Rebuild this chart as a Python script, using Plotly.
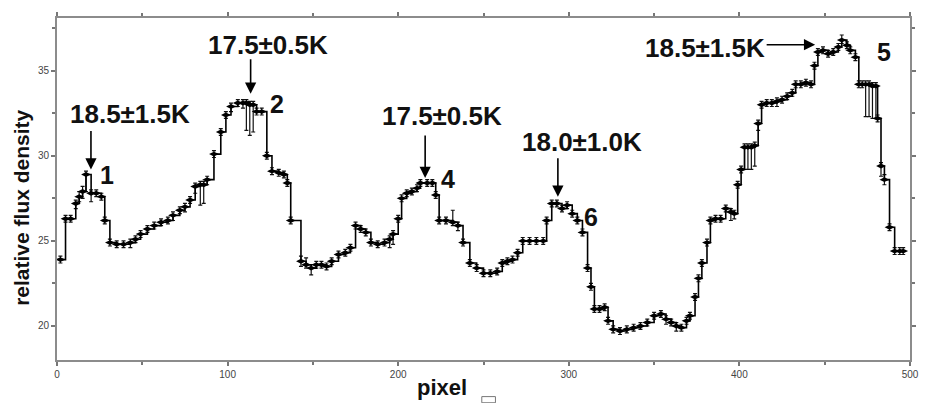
import plotly.graph_objects as go

# Flux profile along the scan (step profile with error bars)
pixel = [
    2, 5, 8, 11, 13, 15, 17, 20, 23, 26,
    28, 31, 35, 39, 43, 46, 49, 53, 57, 61,
    65, 68, 72, 75, 78, 81, 84, 86, 88, 92,
    96, 99, 102, 106, 109, 111, 113, 115, 117, 120,
    123, 126, 130, 133, 135, 137, 143, 146, 149, 152,
    155, 158, 161, 165, 169, 172, 175, 178, 181, 184,
    188, 192, 195, 197, 200, 202, 205, 208, 211, 213,
    217, 220, 222, 224, 228, 232, 235, 238, 242, 246,
    250, 254, 258, 261, 264, 267, 270, 273, 277, 281,
    285, 287, 290, 293, 296, 299, 302, 305, 308, 311,
    313, 315, 318, 321, 323, 326, 330, 334, 338, 342,
    346, 350, 354, 357, 360, 363, 366, 369, 371, 374,
    376, 378, 381, 383, 386, 389, 392, 395, 397, 399,
    401, 403, 405, 407, 409, 411, 413, 416, 419, 422,
    425, 428, 431, 433, 436, 439, 442, 444, 446, 449,
    452, 455, 458, 460, 463, 465, 468, 470, 472, 474,
    476, 478, 480, 481, 483, 485, 488, 491, 494, 496,
]
flux = [
    23.9, 26.3, 26.3, 27.2, 27.6, 27.9, 28.9, 27.8, 27.8, 27.6,
    26.2, 24.9, 24.8, 24.8, 24.9, 25.1, 25.4, 25.7, 25.9, 26.1,
    26.2, 26.5, 26.8, 27.0, 27.4, 28.2, 28.3, 28.3, 28.6, 30.1,
    31.4, 32.4, 32.9, 33.1, 33.1, 33.1, 33.0, 33.0, 32.6, 32.6,
    30.0, 29.1, 29.0, 28.9, 28.4, 26.2, 23.8, 23.6, 23.4, 23.6,
    23.6, 23.5, 23.8, 24.2, 24.3, 24.6, 25.9, 25.7, 25.5, 24.9,
    24.8, 24.9, 25.1, 25.4, 26.3, 27.5, 27.8, 27.9, 28.1, 28.4,
    28.4, 28.4, 27.7, 26.2, 26.2, 26.1, 25.9, 24.9, 23.7, 23.4,
    23.1, 23.1, 23.2, 23.7, 23.8, 23.9, 24.3, 25.0, 25.0, 25.0,
    25.0, 26.2, 27.2, 27.2, 26.9, 27.1, 26.6, 26.2, 25.5, 23.4,
    22.3, 21.0, 21.0, 21.1, 20.3, 19.8, 19.7, 19.8, 19.9, 20.0,
    20.2, 20.6, 20.7, 20.4, 20.2, 20.0, 19.9, 20.3, 20.6, 21.7,
    22.8, 23.7, 24.9, 26.2, 26.3, 26.3, 26.9, 26.7, 26.6, 28.3,
    29.2, 30.5, 30.5, 30.5, 30.6, 31.9, 33.0, 33.1, 33.1, 33.2,
    33.3, 33.5, 33.7, 34.2, 34.2, 34.3, 34.2, 35.3, 36.1, 36.2,
    36.0, 36.1, 36.4, 36.8, 36.5, 36.2, 35.8, 34.2, 34.2, 34.2,
    34.2, 34.1, 34.1, 32.2, 29.4, 28.6, 25.8, 24.4, 24.4, 24.4,
]
err_low = [
    0.2, 0.2, 0.2, 0.3, 0.3, 0.4, 1.0, 0.5, 0.2, 0.2,
    0.2, 0.2, 0.2, 0.2, 0.3, 0.2, 0.2, 0.2, 0.2, 0.2,
    0.2, 0.3, 0.2, 0.3, 0.2, 0.4, 1.2, 1.1, 0.3, 0.2,
    0.2, 0.2, 0.3, 0.2, 0.3, 1.6, 1.8, 1.6, 0.2, 0.2,
    0.2, 0.2, 0.2, 0.2, 0.2, 0.2, 0.3, 0.2, 0.4, 0.2,
    0.2, 0.2, 0.2, 0.2, 0.2, 0.2, 0.2, 0.2, 0.2, 0.2,
    0.2, 0.2, 0.5, 0.6, 0.2, 0.2, 0.2, 0.2, 0.2, 0.2,
    0.2, 0.2, 0.2, 0.2, 0.2, 0.2, 0.3, 0.2, 0.2, 0.2,
    0.2, 0.2, 0.2, 0.2, 0.2, 0.2, 0.2, 0.2, 0.2, 0.2,
    0.2, 0.2, 0.2, 0.2, 0.2, 0.2, 0.2, 0.2, 0.2, 0.2,
    0.2, 0.2, 0.2, 0.2, 0.2, 0.2, 0.2, 0.2, 0.2, 0.2,
    0.2, 0.2, 0.2, 0.3, 0.2, 0.3, 0.2, 0.2, 0.2, 0.2,
    0.2, 0.2, 0.2, 0.2, 0.2, 0.2, 0.2, 0.5, 0.3, 0.2,
    0.2, 1.3, 1.3, 1.3, 1.2, 0.4, 0.2, 0.2, 0.2, 0.3,
    0.2, 0.2, 0.2, 0.2, 0.2, 0.2, 0.2, 0.2, 0.2, 0.2,
    0.2, 0.2, 0.2, 0.2, 0.2, 0.2, 0.2, 0.2, 0.2, 1.9,
    1.9, 1.9, 1.9, 0.2, 0.6, 0.3, 0.2, 0.2, 0.2, 0.2,
]
err_high = [
    0.2, 0.2, 0.2, 0.2, 0.3, 0.3, 0.2, 0.2, 0.2, 0.2,
    0.2, 0.2, 0.2, 0.2, 0.2, 0.2, 0.2, 0.2, 0.2, 0.2,
    0.2, 0.2, 0.2, 0.2, 0.2, 0.2, 0.2, 0.2, 0.2, 0.2,
    0.2, 0.2, 0.2, 0.2, 0.2, 0.2, 0.2, 0.2, 0.2, 0.2,
    0.2, 0.2, 0.2, 0.2, 0.2, 0.2, 0.3, 0.4, 0.2, 0.2,
    0.2, 0.2, 0.2, 0.2, 0.2, 0.2, 0.2, 0.2, 0.2, 0.2,
    0.2, 0.2, 0.2, 0.2, 0.2, 0.2, 0.2, 0.2, 0.2, 0.2,
    0.2, 0.2, 0.2, 0.2, 0.2, 0.7, 0.2, 0.2, 0.2, 0.2,
    0.2, 0.2, 0.2, 0.2, 0.2, 0.2, 0.2, 0.2, 0.2, 0.2,
    0.2, 0.2, 0.2, 0.2, 0.2, 0.2, 0.2, 0.2, 0.2, 0.2,
    0.2, 0.2, 0.2, 0.2, 0.2, 0.2, 0.2, 0.2, 0.2, 0.2,
    0.2, 0.2, 0.2, 0.2, 0.2, 0.2, 0.2, 0.2, 0.2, 0.2,
    0.2, 0.2, 0.2, 0.2, 0.2, 0.2, 0.2, 0.2, 0.2, 0.2,
    0.2, 0.2, 0.2, 0.2, 0.2, 0.2, 0.2, 0.2, 0.2, 0.2,
    0.2, 0.2, 0.2, 0.2, 0.2, 0.2, 0.2, 0.2, 0.2, 0.2,
    0.2, 0.2, 0.2, 0.3, 0.2, 0.2, 0.2, 0.2, 0.2, 0.2,
    0.2, 0.2, 0.2, 0.2, 0.2, 0.3, 0.2, 0.2, 0.2, 0.2,
]

# Peak identifiers and their dust temperatures
peak_ids = ["1", "2", "4", "6", "5"]
peak_temps = ["18.5±1.5K", "17.5±0.5K", "17.5±0.5K", "18.0±1.0K", "18.5±1.5K"]

x_ticks = [0, 100, 200, 300, 400, 500]
y_ticks = [20, 25, 30, 35]

fig = go.Figure()
fig.add_trace(go.Scatter(
    x=pixel, y=flux, mode="lines+markers",
    line=dict(color="black", width=1.6, shape="hv"),
    marker=dict(symbol="diamond-wide", size=7, color="black"),
    error_y=dict(type="data", symmetric=False, array=err_high, arrayminus=err_low,
                 color="#111111", thickness=1.2, width=2),
    showlegend=False,
))

# Arrows: tip position (data units) and tail offset (pixels)
arrows = [
    dict(x=19.9, y=29.2, ax=0, ay=-40),
    dict(x=113.5, y=33.65, ax=0, ay=-36),
    dict(x=215.8, y=28.7, ax=0, ay=-44),
    dict(x=293.6, y=27.6, ax=0, ay=-40),
    dict(x=444.4, y=36.53, ax=-50, ay=0),
]
for a in arrows:
    fig.add_annotation(x=a["x"], y=a["y"], ax=a["ax"], ay=a["ay"], text="",
                       showarrow=True, arrowhead=2, arrowsize=1.4, arrowwidth=1.6,
                       arrowcolor="black", xref="x", yref="y")

temp_pos = [(42.7, 32.43), (123.4, 36.53), (225.7, 32.37), (307.6, 30.81), (380.1, 36.36)]
id_pos = [(29.2, 28.9), (128.7, 33.06), (229.2, 28.61), (312.9, 26.42), (484.8, 36.13)]

for (tx, ty), label in zip(temp_pos, peak_temps):
    fig.add_annotation(x=tx, y=ty, text=label, showarrow=False,
                       xanchor="center", yanchor="middle",
                       font=dict(family="Arial", size=26, color="#111111", weight="bold"))
for (tx, ty), label in zip(id_pos, peak_ids):
    fig.add_annotation(x=tx, y=ty, text=label, showarrow=False,
                       xanchor="center", yanchor="middle",
                       font=dict(family="Arial", size=25, color="#111111", weight="bold"))

# Axis titles
fig.add_annotation(x=225.4, y=-0.081, xref="x", yref="paper", text="pixel",
                   showarrow=False, xanchor="center", yanchor="middle",
                   font=dict(family="Arial", size=22, color="#111111", weight="bold"))
fig.add_annotation(x=-0.041, y=0.445, xref="paper", yref="paper",
                   text="relative flux density", textangle=-90, showarrow=False,
                   xanchor="center", yanchor="middle",
                   font=dict(family="Arial", size=21, color="#111111", weight="bold"))

# small box below the axis
fig.add_shape(type="rect", xref="paper", yref="paper",
              x0=0.498, x1=0.514, y0=-0.125, y1=-0.107,
              line=dict(color="#777777", width=1), fillcolor="white")

axis_common = dict(
    showline=True, linecolor="#8c8c8c", linewidth=2, mirror="ticks",
    ticks="outside", ticklen=4, tickcolor="#777777", tickwidth=1.5,
    showgrid=False, zeroline=False,
    tickfont=dict(family="Arial", size=10, color="#444444"),
)
fig.update_xaxes(range=[0, 500], tickvals=x_ticks,
                 minor=dict(dtick=50, ticks="outside", ticklen=3, tickcolor="#777777"),
                 **axis_common)
fig.update_yaxes(range=[18, 38.1], tickvals=y_ticks,
                 minor=dict(dtick=2.5, ticks="outside", ticklen=3, tickcolor="#777777"),
                 **axis_common)

fig.update_layout(
    width=931, height=403,
    margin=dict(l=57, r=18, t=13, b=43),
    paper_bgcolor="white", plot_bgcolor="white",
)

fig.write_html("out.html")
